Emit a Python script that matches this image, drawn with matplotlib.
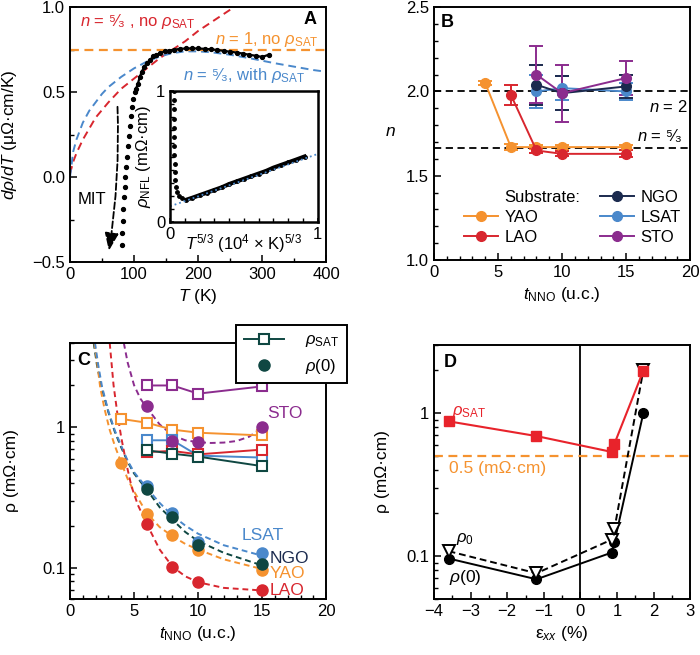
import numpy as np
import matplotlib
matplotlib.use('Agg')
import matplotlib.pyplot as plt
from matplotlib.ticker import MultipleLocator, LogLocator, NullFormatter, FixedLocator, FixedFormatter
from matplotlib.lines import Line2D

plt.rcParams['font.family'] = ['Liberation Sans', 'DejaVu Sans']
plt.rcParams['mathtext.fontset'] = 'custom'
plt.rcParams['mathtext.rm'] = 'Liberation Sans'
plt.rcParams['mathtext.it'] = 'Liberation Sans:italic'
plt.rcParams['mathtext.bf'] = 'Liberation Sans:bold'
plt.rcParams['font.size'] = 12

ORANGE = '#f5922f'
RED = '#d8262e'
BLUE = '#4a88cb'
PURPLE = '#8b2c8e'
NAVY = '#1b2a4e'
TEAL = '#0f4742'

# ---- panel A data ----
T_dots = [80.5, 81.5, 82.5, 83.5, 84.5, 85.5, 86.5, 87.5, 88.5, 90, 91.5, 93, 95, 97, 99, 101, 103,
          106, 109, 112, 116, 120, 125, 130, 135, 141, 148, 155, 163, 172, 181, 190, 200, 210,
          220, 230, 240, 250, 260, 270, 280, 290, 300, 310]
drdT_dots = [-0.40, -0.33, -0.26, -0.19, -0.12, -0.06, 0.0, 0.06, 0.12, 0.18, 0.24, 0.30, 0.36, 0.41,
             0.46, 0.50, 0.52, 0.55, 0.59, 0.62, 0.65, 0.67, 0.69, 0.71, 0.72, 0.73, 0.74, 0.745,
             0.75, 0.755, 0.757, 0.758, 0.757, 0.755, 0.752, 0.748, 0.743, 0.738, 0.733, 0.727,
             0.72, 0.714, 0.707, 0.72]
T_red = [0, 5, 10, 20, 40, 60, 80, 100, 120, 140, 160, 180, 200, 220, 240, 260]
y_red = [0.02, 0.09, 0.14, 0.22, 0.35, 0.44, 0.52, 0.58, 0.64, 0.70, 0.75, 0.80, 0.86, 0.91, 0.96, 1.01]
T_blue = [0, 5, 10, 20, 30, 40, 50, 60, 80, 100, 120, 140, 160, 180, 200, 220, 250, 280, 300,
          320, 350, 380, 400]
y_blue = [0.0, 0.15, 0.22, 0.32, 0.39, 0.44, 0.49, 0.53, 0.59, 0.64, 0.68, 0.71, 0.73, 0.74, 0.74,
          0.735, 0.72, 0.70, 0.685, 0.67, 0.65, 0.63, 0.62]
n1_level = 0.75

# inset
x_in = [0.025, 0.025, 0.026, 0.026, 0.027, 0.027, 0.028, 0.029, 0.030, 0.032, 0.035, 0.040,
        0.048, 0.060, 0.080, 0.110, 0.15, 0.20, 0.25, 0.30, 0.35, 0.40, 0.45, 0.50, 0.55,
        0.60, 0.65, 0.70, 0.75, 0.80, 0.85, 0.91]
y_in = [1.0, 0.93, 0.86, 0.79, 0.72, 0.65, 0.58, 0.51, 0.44, 0.38, 0.32, 0.27, 0.23, 0.20, 0.18,
        0.17, 0.185, 0.205, 0.225, 0.245, 0.265, 0.29, 0.31, 0.33, 0.35, 0.37, 0.39, 0.415,
        0.435, 0.455, 0.475, 0.50]
x_infit = [0.0, 1.0]
y_infit = [0.12, 0.52]

# ---- panel B data ----
tB = {'YAO': [4, 6, 8, 10, 15], 'LAO': [6, 8, 10, 15], 'NGO': [8, 10, 15],
      'LSAT': [8, 10, 15], 'STO': [8, 10, 15]}
nB = {'YAO': [2.05, 1.67, 1.67, 1.67, 1.67], 'LAO': [1.98, 1.65, 1.63, 1.63],
      'NGO': [2.04, 1.99, 2.03], 'LSAT': [2.0, 2.02, 2.0], 'STO': [2.1, 1.99, 2.08]}
eB = {'YAO': [0.01, 0.02, 0.01, 0.015, 0.015], 'LAO': [0.06, 0.015, 0.015, 0.02],
      'NGO': [0.12, 0.1, 0.07], 'LSAT': [0.1, 0.07, 0.05], 'STO': [0.17, 0.17, 0.1]}
colB = {'YAO': ORANGE, 'LAO': RED, 'NGO': NAVY, 'LSAT': BLUE, 'STO': PURPLE}

# ---- panel C data ----
t_sat = {'STO': [6, 8, 10, 15], 'YAO': [4, 6, 8, 10, 15], 'LSAT': [6, 8, 10, 15],
         'LAO': [6, 8, 10, 15], 'NGO': [6, 8, 10, 15]}
rho_sat = {'STO': [1.99, 1.99, 1.74, 1.96], 'YAO': [1.15, 1.08, 0.965, 0.917, 0.877],
           'LSAT': [0.81, 0.81, 0.63, 0.61], 'LAO': [0.668, 0.68, 0.643, 0.695],
           'NGO': [0.687, 0.65, 0.62, 0.53]}
t_r0 = {'STO': [6, 8, 10, 15], 'YAO': [4, 6, 8, 10, 15], 'LSAT': [6, 8, 10, 15],
        'LAO': [6, 8, 10, 15], 'NGO': [6, 8, 10, 15]}
rho0 = {'STO': [1.42, 0.80, 0.79, 1.0], 'YAO': [0.56, 0.243, 0.17, 0.134, 0.096],
        'LSAT': [0.38, 0.245, 0.154, 0.127], 'LAO': [0.206, 0.102, 0.079, 0.069],
        'NGO': [0.365, 0.229, 0.146, 0.106]}
t_fit = {'LAO': [3.1, 3.4, 3.7, 4.0, 4.4, 4.8, 5.3, 6, 7, 8, 9, 10, 12, 15],
         'YAO': [1.9, 2.1, 2.35, 2.7, 3.1, 3.5, 4, 4.5, 5, 6, 7, 8, 9, 10, 12, 15],
         'LSAT': [1.95, 2.2, 2.5, 3, 3.5, 4, 4.5, 5, 6, 7, 8, 9, 10, 12, 15],
         'NGO': [1.85, 2.1, 2.45, 3, 3.5, 4, 4.5, 5, 6, 7, 8, 9, 10, 12, 15],
         'STO': [4.2, 4.5, 5, 5.5, 6, 7, 8, 9, 10, 11, 12, 13, 14, 15]}
rho_fit = {'LAO': [4.0, 2.0, 1.25, 0.85, 0.55, 0.38, 0.28, 0.205, 0.135, 0.102, 0.087, 0.079, 0.072, 0.069],
           'YAO': [4, 3.0, 1.95, 1.35, 0.96, 0.74, 0.56, 0.43, 0.35, 0.245, 0.195, 0.168, 0.148, 0.135, 0.115, 0.098],
           'LSAT': [4, 2.8, 1.95, 1.3, 0.95, 0.74, 0.58, 0.48, 0.37, 0.29, 0.235, 0.2, 0.175, 0.145, 0.122],
           'NGO': [4, 2.8, 1.95, 1.28, 0.93, 0.72, 0.57, 0.47, 0.36, 0.27, 0.22, 0.18, 0.155, 0.128, 0.104],
           'STO': [4, 2.9, 2.0, 1.6, 1.38, 1.05, 0.88, 0.81, 0.785, 0.775, 0.78, 0.8, 0.86, 1.0]}
colC = {'YAO': ORANGE, 'LAO': RED, 'NGO': TEAL, 'LSAT': BLUE, 'STO': PURPLE}

# ---- panel D data ----
strain = [-3.6, -1.2, 0.85, 0.93, 1.72]
rho_sat_D = [0.875, 0.69, 0.535, 0.61, 1.98]
rho_0_D = [0.108, 0.0757, 0.13, 0.155, 2.0]
rho_00_D = [0.096, 0.0687, 0.1055, 0.125, 1.0]
ref_level = 0.5

fig = plt.figure(figsize=(7, 6.55), dpi=100)


def style(ax):
    ax.tick_params(which='both', direction='in', top=False, right=False, labelsize=12)
    ax.tick_params(which='major', length=5, width=1.1)
    ax.tick_params(which='minor', length=3, width=1.0)
    for s in ax.spines.values():
        s.set_linewidth(1.4)


# ===== A =====
axA = fig.add_axes([0.1, 0.6, 0.366, 0.389])
axA.plot(T_red, y_red, '--', color=RED, lw=1.4, dashes=(4, 2.5))
axA.plot(T_blue, y_blue, '--', color=BLUE, lw=1.4, dashes=(4, 2.5))
axA.axhline(n1_level, color=ORANGE, ls='--', lw=1.6, dashes=(4, 2.5))
axA.plot(T_dots, drdT_dots, 'o', color='black', ms=2.8)
axA.plot(T_dots[16:], drdT_dots[16:], '-', color='black', lw=1.6)
axA.annotate('', xy=(60, -0.45), xytext=(74, 0.43),
             arrowprops=dict(arrowstyle='-|>,head_length=0.9,head_width=0.35', color='black',
                             ls='--', lw=1.3, connectionstyle='arc3,rad=-0.05'))
axA.set_xlim(0, 400)
axA.set_ylim(-0.5, 1.0)
axA.xaxis.set_major_locator(MultipleLocator(100))
axA.xaxis.set_minor_locator(MultipleLocator(50))
axA.yaxis.set_major_locator(MultipleLocator(0.5))
axA.yaxis.set_minor_locator(MultipleLocator(0.25))
style(axA)
axA.set_xlabel('$T$ (K)', fontsize=12.5)
axA.set_ylabel(r'$d\rho/dT$ (μΩ·cm/K)', fontsize=12.5)
axA.yaxis.set_label_coords(-0.2, 0.5)
axA.text(15, 0.915, r'$n$ = ⁵⁄₃ , no $\rho_\mathrm{SAT}$', color=RED, fontsize=12, va='center')
axA.text(388, 0.81, r'$n$ = 1, no $\rho_\mathrm{SAT}$', color=ORANGE, fontsize=12, va='center', ha='right')
axA.text(176, 0.6, r'$n$ = ⁵⁄₃, with $\rho_\mathrm{SAT}$', color=BLUE, fontsize=12, va='center')
axA.text(385, 0.93, 'A', fontsize=13, fontweight='bold', va='center', ha='right')
axA.text(12, -0.13, 'MIT', fontsize=12, va='center')

axI = fig.add_axes([0.243, 0.661, 0.211, 0.2])
axI.plot(x_in[15:], y_in[15:], '-', color='black', lw=3)
axI.plot(x_in, y_in, 'o', color='black', ms=2.5)
axI.plot(x_infit, y_infit, ':', color=BLUE, lw=1.3)
axI.set_xlim(0, 1)
axI.set_ylim(0, 1)
axI.xaxis.set_major_locator(FixedLocator([0, 1]))
axI.xaxis.set_minor_locator(MultipleLocator(0.1))
axI.yaxis.set_major_locator(FixedLocator([0, 1]))
axI.yaxis.set_minor_locator(MultipleLocator(0.1))
axI.xaxis.set_major_formatter(FixedFormatter(['0', '1']))
axI.yaxis.set_major_formatter(FixedFormatter(['0', '1']))
style(axI)
for s in axI.spines.values():
    s.set_linewidth(1.8)
axI.tick_params(which='major', length=3)
axI.set_ylabel(r'$\rho_\mathrm{NFL}$ (mΩ·cm)', fontsize=12, labelpad=2)
axI.text(0.5, -0.075, r'$T^{5/3}$ (10$^4$ × K)$^{5/3}$', transform=axI.transAxes,
         ha='center', va='top', fontsize=12)

# ===== B =====
axB = fig.add_axes([0.62, 0.603, 0.366, 0.386])
axB.axhline(2.0, color='black', ls='--', lw=1.3, dashes=(4, 2.5))
axB.axhline(5 / 3, color='black', ls='--', lw=1.3, dashes=(4, 2.5))
handles = {}
for name in ['YAO', 'LAO', 'LSAT', 'NGO', 'STO']:
    axB.errorbar(tB[name], nB[name], yerr=eB[name], color=colB[name], marker='o', ms=7,
                 lw=1.4, capsize=5, capthick=1.4, elinewidth=1.4)
    handles[name] = Line2D([], [], color=colB[name], marker='o', ms=7, lw=1.4)
blank = Line2D([], [], color='none')
axB.legend([blank, handles['YAO'], handles['LAO'], handles['NGO'], handles['LSAT'], handles['STO']],
           ['Substrate:', 'YAO', 'LAO', 'NGO', 'LSAT', 'STO'], ncol=2, frameon=False,
           loc='lower left', bbox_to_anchor=(0.06, 0.0), fontsize=12, handlelength=2.0,
           columnspacing=1.2, handletextpad=0.4, labelspacing=0.3)
axB.set_xlim(0, 20)
axB.set_ylim(1.0, 2.5)
axB.xaxis.set_major_locator(MultipleLocator(5))
axB.xaxis.set_minor_locator(MultipleLocator(1))
axB.yaxis.set_major_locator(MultipleLocator(0.5))
axB.yaxis.set_minor_locator(MultipleLocator(0.1))
style(axB)
axB.set_xlabel(r'$t_\mathrm{NNO}$ (u.c.)', fontsize=12.5)
axB.set_ylabel('$n$', rotation=0, fontsize=12.5)
axB.yaxis.set_label_coords(-0.17, 0.48)
axB.text(19.8, 1.905, '$n$ = 2', ha='right', va='center', fontsize=12)
axB.text(19.4, 1.74, '$n$ = ⁵⁄₃', ha='right', va='center', fontsize=12)
axB.text(0.55, 2.41, 'B', fontsize=13, fontweight='bold', va='center')

# ===== C =====
axC = fig.add_axes([0.1, 0.0855, 0.366, 0.391])
for name in ['NGO', 'YAO', 'LSAT', 'LAO', 'STO']:
    axC.plot(t_fit[name], rho_fit[name], '--', color=colC[name], lw=1.4, dashes=(3, 2))
for name in ['STO', 'YAO', 'LSAT', 'LAO', 'NGO']:
    axC.plot(t_sat[name], rho_sat[name], '-s', color=colC[name], mfc='white', mec=colC[name],
             ms=6.5, mew=1.5, lw=1.4)
for name in ['STO', 'YAO', 'LSAT', 'NGO', 'LAO']:
    axC.plot(t_r0[name], rho0[name], 'o', color=colC[name], ms=8)
axC.set_yscale('log')
axC.set_xlim(0, 20)
axC.set_ylim(0.06, 4)
axC.xaxis.set_major_locator(MultipleLocator(5))
axC.xaxis.set_minor_locator(MultipleLocator(1))
axC.yaxis.set_major_locator(FixedLocator([0.1, 1]))
axC.yaxis.set_major_formatter(FixedFormatter(['0.1', '1']))
axC.yaxis.set_minor_locator(LogLocator(base=10, subs=np.arange(2, 10)))
axC.yaxis.set_minor_formatter(NullFormatter())
style(axC)
axC.set_xlabel(r'$t_\mathrm{NNO}$ (u.c.)', fontsize=12.5)
axC.set_ylabel('ρ (mΩ·cm)', fontsize=12.5)
axC.yaxis.set_label_coords(-0.2, 0.5)
axC.text(0.03, 0.93, 'C', transform=axC.transAxes, fontsize=13, fontweight='bold', va='center')
axC.text(15.4, 1.25, 'STO', color=PURPLE, fontsize=12.5, va='center')
axC.text(13.4, 0.171, 'LSAT', color=BLUE, fontsize=12.5, va='center')
axC.text(15.6, 0.117, 'NGO', color=NAVY, fontsize=12.5, va='center')
axC.text(15.6, 0.091, 'YAO', color=ORANGE, fontsize=12.5, va='center')
axC.text(15.6, 0.069, 'LAO', color=RED, fontsize=12.5, va='center')
legC = axC.legend([Line2D([], [], color=TEAL, marker='s', mfc='white', ms=6.5, mew=1.5, lw=1.4),
                   Line2D([], [], color=TEAL, marker='o', ms=8, lw=0)],
                  [r'$\rho_\mathrm{SAT}$', r'$\rho$(0)'], loc='upper left',
                  bbox_to_anchor=(0.648, 1.07), borderaxespad=0, fontsize=12, handlelength=2.4,
                  fancybox=False, framealpha=1, edgecolor='black', borderpad=0.45,
                  labelspacing=0.45, handletextpad=1.3)
legC.get_frame().set_linewidth(1.4)

# ===== D =====
axD = fig.add_axes([0.62, 0.0855, 0.366, 0.388])
axD.axvline(0, color='black', lw=1.3)
axD.axhline(ref_level, color=ORANGE, ls='--', lw=1.6, dashes=(4, 2.5))
axD.plot(strain, rho_00_D, '-o', color='black', ms=7, lw=1.4)
axD.plot(strain, rho_0_D, '--v', color='black', mfc='white', ms=8, mew=1.4, lw=1.4, dashes=(3.5, 2))
axD.plot(strain, rho_sat_D, '-s', color='#e8232b', ms=7, lw=1.5)
axD.set_yscale('log')
axD.set_xlim(-4, 3)
axD.set_ylim(0.05, 3)
axD.set_xticks(range(-4, 4))
axD.set_xticklabels(['−4', '−3', '−2', '−1', '0', '1', '2', '3'])
axD.xaxis.set_minor_locator(MultipleLocator(0.5))
axD.yaxis.set_major_locator(FixedLocator([0.1, 1]))
axD.yaxis.set_major_formatter(FixedFormatter(['0.1', '1']))
axD.yaxis.set_minor_locator(LogLocator(base=10, subs=np.arange(2, 10)))
axD.yaxis.set_minor_formatter(NullFormatter())
style(axD)
axD.set_xlabel(r'ε$_{xx}$ (%)', fontsize=12.5)
axD.set_ylabel('ρ (mΩ·cm)', fontsize=12.5)
axD.yaxis.set_label_coords(-0.17, 0.5)
axD.text(0.04, 0.93, 'D', transform=axD.transAxes, fontsize=13, fontweight='bold', va='center')
axD.text(0.07, 0.735, r'$\rho_\mathrm{SAT}$', transform=axD.transAxes, color='#e8232b', fontsize=12, va='center')
axD.text(0.06, 0.515, '0.5 (mΩ·cm)', transform=axD.transAxes, color=ORANGE, fontsize=12.5, va='center')
axD.text(0.085, 0.235, r'$\rho_0$', transform=axD.transAxes, fontsize=12, va='center')
axD.text(0.06, 0.085, r'$\rho$(0)', transform=axD.transAxes, fontsize=12.5, va='center')

fig.savefig('out.png', dpi=100)
